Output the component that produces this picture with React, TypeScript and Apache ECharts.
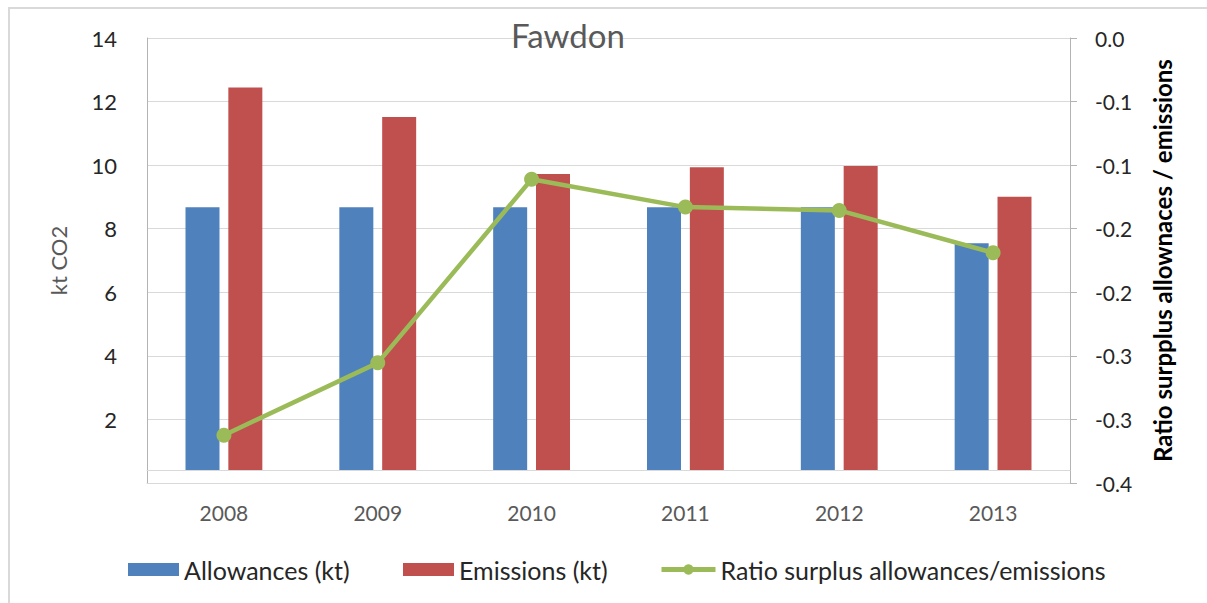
import React, { useEffect, useRef } from "react";
import * as echarts from "echarts";

const categories = ["2008", "2009", "2010", "2011", "2012", "2013"];
const allowances = [8.67, 8.67, 8.67, 8.67, 8.67, 7.54];
const emissions = [12.44, 11.51, 9.72, 9.93, 9.97, 9.0];
const ratio = [-0.357, -0.292, -0.127, -0.152, -0.155, -0.193];

const leftMin = 0;
const leftMax = 14;
const leftInterval = 2;
const rightMin = -0.4;
const rightMax = 0;
const rightSteps = 7;

const FONT = "Lato, 'Noto Sans', sans-serif";
const BLUE = "#4F81BD";
const RED = "#C0504D";
const GREEN = "#9BBB59";
const GRID = "#d9d9d9";
const AXIS = "#b3b3b3";

export default function App() {
  const ref = useRef<HTMLDivElement>(null);

  useEffect(() => {
    document.body.style.margin = "0";
    if (!ref.current) return;
    const chart = echarts.init(ref.current, null, { renderer: "svg" });
    const rightInterval = (rightMax - rightMin) / rightSteps + 1e-12;

    const legendText = { fontFamily: FONT, fontSize: 25, color: "#262626" };
    const legendBase = {
      top: 557,
      padding: 0,
      itemHeight: 13,
      textStyle: legendText,
    };

    chart.setOption({
      animation: false,
      backgroundColor: "#ffffff",
      title: {
        text: "Fawdon",
        left: 511,
        top: 18,
        padding: 0,
        textStyle: { fontFamily: FONT, fontSize: 33, fontWeight: "normal", color: "#595959" },
      },
      graphic: [
        { type: "line", shape: { x1: 8, y1: 8, x2: 1207, y2: 8 }, style: { stroke: GRID, lineWidth: 2 } },
        { type: "line", shape: { x1: 9, y1: 8, x2: 9, y2: 603 }, style: { stroke: GRID, lineWidth: 2 } },
      ],
      legend: [
        {
          ...legendBase,
          data: ["Allowances (kt)"],
          left: 128,
          itemWidth: 51,
          icon: "rect",
        },
        {
          ...legendBase,
          data: ["Emissions (kt)"],
          left: 403,
          itemWidth: 51,
          icon: "rect",
        },
        {
          ...legendBase,
          data: ["Ratio surplus allowances/emissions"],
          left: 659,
          itemWidth: 54,
          lineStyle: { width: 5 },
        },
      ],
      grid: [
        { left: 147, right: 137, top: 38, height: 445, containLabel: false },
        { left: 147, right: 137, top: 38, height: 432, containLabel: false },
      ],
      xAxis: [
        {
          type: "category",
          gridIndex: 0,
          data: categories,
          axisLine: { show: true, onZero: false, lineStyle: { color: GRID, width: 1 } },
          axisTick: { show: false },
          axisLabel: { margin: 19, fontFamily: FONT, fontSize: 21, color: "#595959" },
        },
        {
          type: "category",
          gridIndex: 1,
          data: categories,
          axisLine: { show: true, onZero: false, lineStyle: { color: GRID, width: 1 } },
          axisTick: { show: false },
          axisLabel: { show: false },
        },
      ],
      yAxis: [
        {
          type: "value",
          gridIndex: 0,
          position: "left",
          min: leftMin,
          max: leftMax,
          interval: leftInterval,
          name: "kt CO2",
          nameLocation: "middle",
          nameRotate: 90,
          nameGap: 78,
          nameTextStyle: { fontFamily: FONT, fontSize: 22, color: "#595959" },
          axisLine: { show: true, lineStyle: { color: AXIS } },
          axisTick: { show: false },
          axisLabel: {
            margin: 30,
            fontFamily: FONT,
            fontSize: 22,
            color: "#262626",
            formatter: (v: number) => (v === 0 ? "" : String(v)),
          },
          splitLine: { show: true, lineStyle: { color: GRID, width: 1 } },
        },
        {
          type: "value",
          gridIndex: 0,
          position: "right",
          min: rightMin,
          max: rightMax,
          interval: rightInterval,
          name: "Ratio surpplus allownaces / emissions",
          nameLocation: "middle",
          nameRotate: 90,
          nameGap: 80,
          nameTextStyle: { fontFamily: FONT, fontSize: 24, fontWeight: "bold", color: "#000000" },
          axisLine: { show: true, lineStyle: { color: AXIS } },
          axisTick: { show: true, inside: false, length: 7, lineStyle: { color: AXIS } },
          axisLabel: {
            margin: 25,
            fontFamily: FONT,
            fontSize: 21,
            color: "#262626",
            formatter: (v: number) => (Math.abs(v) < 1e-9 ? "0.0" : v.toFixed(1)),
          },
          splitLine: { show: false },
        },
        {
          type: "value",
          gridIndex: 1,
          min: 0.4,
          max: leftMax,
          show: false,
          splitLine: { show: false },
        },
      ],
      series: [
        {
          name: "Allowances (kt)",
          type: "bar",
          xAxisIndex: 1,
          yAxisIndex: 2,
          data: allowances,
          barWidth: 34,
          barGap: "26%",
          itemStyle: { color: BLUE },
        },
        {
          name: "Emissions (kt)",
          type: "bar",
          xAxisIndex: 1,
          yAxisIndex: 2,
          data: emissions,
          barWidth: 34,
          barGap: "26%",
          itemStyle: { color: RED },
        },
        {
          name: "Ratio surplus allowances/emissions",
          type: "line",
          xAxisIndex: 0,
          yAxisIndex: 1,
          data: ratio,
          z: 5,
          symbol: "circle",
          symbolSize: 15,
          lineStyle: { color: GREEN, width: 4.5 },
          itemStyle: { color: GREEN },
        },
      ],
    });

    return () => chart.dispose();
  }, []);

  return <div ref={ref} style={{ width: 1207, height: 603 }} />;
}
